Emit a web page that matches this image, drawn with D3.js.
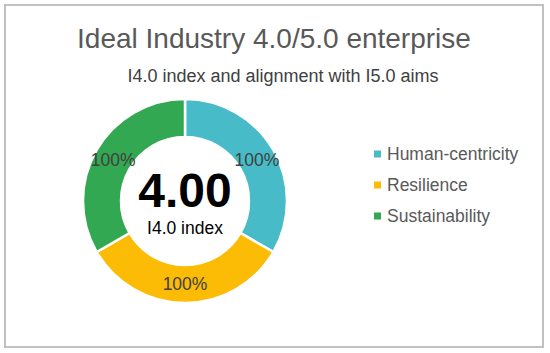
<!DOCTYPE html>
<html><head><meta charset="utf-8">
<script src="https://cdn.jsdelivr.net/npm/d3@7"></script>
<style>html,body{margin:0;padding:0;background:#fff;}svg{display:block;font-family:"Liberation Sans",Arial,sans-serif;}</style>
</head><body>
<svg id="chart" width="550" height="353"></svg>
<script>
const categories = ["Human-centricity", "Resilience", "Sustainability"];
const values = [1, 1, 1];
const labels = ["100%", "100%", "100%"];
const colors = ["#47bcc8", "#fcbb05", "#32a852"];
const centerValue = "4.00";
const centerLabel = "I4.0 index";
const title = "Ideal Industry 4.0/5.0 enterprise";
const subtitle = "I4.0 index and alignment with I5.0 aims";

const svg = d3.select("#chart");
svg.append("rect").attr("x",5).attr("y",5).attr("width",538).attr("height",342)
  .attr("fill","#fff").attr("stroke","#c0c0c0").attr("stroke-width",2);

svg.append("text").attr("x",274).attr("y",48).attr("text-anchor","middle")
  .attr("font-size",28).attr("fill","#595959").text(title);
svg.append("text").attr("x",283).attr("y",82).attr("text-anchor","middle")
  .attr("font-size",18).attr("fill","#404040").text(subtitle);

const cx = 185, cy = 201, rOut = 102, rIn = 64;
const pie = d3.pie().sort(null).value(d => d);
const arc = d3.arc().innerRadius(rIn).outerRadius(rOut);
const labelArc = d3.arc().innerRadius((rIn+rOut)/2).outerRadius((rIn+rOut)/2);
const g = svg.append("g").attr("transform",`translate(${cx},${cy})`);
const arcs = pie(values);
g.selectAll("path").data(arcs).join("path")
  .attr("d", arc).attr("fill",(d,i)=>colors[i]).attr("stroke","#fff").attr("stroke-width",2.5);
g.selectAll("text.lbl").data(arcs).join("text").attr("class","lbl")
  .attr("x", d=>labelArc.centroid(d)[0]).attr("y", d=>labelArc.centroid(d)[1])
  .attr("dy","0.35em").attr("text-anchor","middle").attr("font-size",17.5).attr("fill","#404040")
  .text((d,i)=>labels[i]);

g.append("text").attr("x",0).attr("y",6).attr("text-anchor","middle")
  .attr("font-size",48).attr("font-weight","bold").attr("fill","#000").text(centerValue);
g.append("text").attr("x",0).attr("y",33).attr("text-anchor","middle")
  .attr("font-size",17.5).attr("fill","#000").text(centerLabel);

const ly = d3.scalePoint().domain(categories).range([154, 216]);
const lg = svg.append("g");
categories.forEach((c,i)=>{
  lg.append("rect").attr("x",374).attr("y",ly(c)-3.5).attr("width",7).attr("height",7).attr("fill",colors[i]);
  lg.append("text").attr("x",387).attr("y",ly(c)).attr("dy","0.35em")
    .attr("font-size",17.5).attr("fill","#595959").text(c);
});
</script>
</body></html>
